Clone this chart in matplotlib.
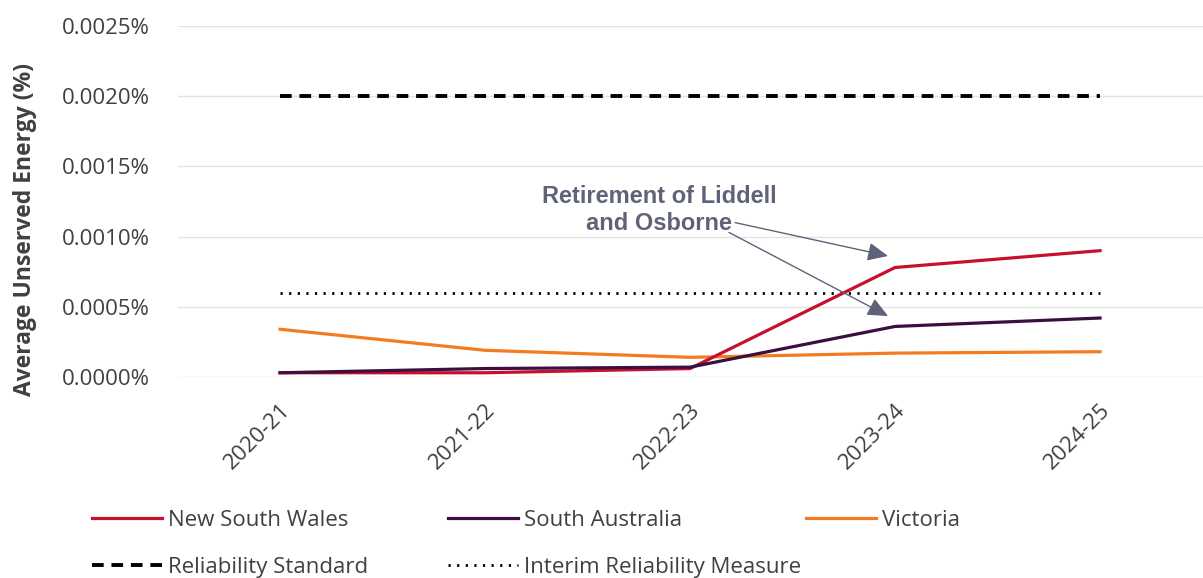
import matplotlib
matplotlib.use("Agg")
import matplotlib.pyplot as plt
from matplotlib.ticker import FuncFormatter, MultipleLocator

years = ["2020-21", "2021-22", "2022-23", "2023-24", "2024-25"]
nsw = [0.00003, 0.00003, 0.00006, 0.00078, 0.00090]
sa = [0.00003, 0.00006, 0.00007, 0.00036, 0.00042]
vic = [0.00034, 0.00019, 0.00014, 0.00017, 0.00018]
reliability_standard = [0.002] * 5
interim_measure = [0.0006] * 5

c_nsw = "#c8102e"
c_sa = "#3b0f3f"
c_vic = "#f47b20"
c_ann = "#5f6378"
txt = "#404040"

fig = plt.figure(figsize=(12.03, 5.78), dpi=100)
ax = fig.add_axes([0.1476, 0.3478, 0.852, 0.607])

x = list(range(len(years)))
l_rs, = ax.plot(x, reliability_standard, color="black", lw=2.8, dashes=(3.0, 2.0), dash_capstyle="butt")
l_irm, = ax.plot(x, interim_measure, color="black", lw=2.0, linestyle=(0, (0.8, 2.3)))
l_vic, = ax.plot(x, vic, color=c_vic, lw=2.3)
l_nsw, = ax.plot(x, nsw, color=c_nsw, lw=2.3)
l_sa, = ax.plot(x, sa, color=c_sa, lw=2.3)

ax.set_xlim(-0.5, 4.5)
ax.set_ylim(0, 0.0025)
ax.yaxis.set_major_locator(MultipleLocator(0.0005))
ax.yaxis.set_major_formatter(FuncFormatter(lambda v, p: f"{v:.4f}%"))
ax.grid(axis="y", color="#e3e3e3", lw=1)
ax.set_axisbelow(True)
for s in ax.spines.values():
    s.set_visible(False)
ax.tick_params(length=0, labelsize=16, labelcolor=txt)
ax.tick_params(axis="y", pad=20)
ax.set_xticks(x)
ax.set_xticklabels(years, rotation=45, ha="right", rotation_mode="anchor")
for lab in ax.get_xticklabels() + ax.get_yticklabels():
    lab.set_fontfamily("Open Sans")
ax.tick_params(axis="x", pad=16)
ax.set_ylabel("Average Unserved Energy (%)", fontsize=16.5, fontweight="bold",
              color=txt, family="Open Sans")
ax.yaxis.set_label_coords(-141 / 1025, 0.419)

ax.text(1.85, 0.00119, "Retirement of Liddell\nand Osborne", ha="center", va="center",
        multialignment="center", fontsize=17, fontweight="bold", color=c_ann,
        family="Liberation Sans", linespacing=1.2)
ap = dict(arrowstyle="-|>,head_length=1.0,head_width=0.45", mutation_scale=12.5, lw=1,
          color=c_ann, shrinkA=0, shrinkB=0)
ax.annotate("", xy=(2.966, 0.000862), xytext=(2.22, 0.00110), arrowprops=ap)
ax.annotate("", xy=(2.966, 0.000434), xytext=(2.19, 0.00103), arrowprops=ap)

leg_kw = dict(frameon=False, handlelength=3.15, handletextpad=0.25, labelspacing=1.15,
              prop={"family": "Open Sans", "size": 16}, labelcolor=txt, borderaxespad=0,
              borderpad=0, loc="upper left")
top = 1 - 510 / 578
leg1 = fig.legend([l_nsw, l_rs], ["New South Wales", "Reliability Standard"],
                  bbox_to_anchor=(92 / 1203, top), **leg_kw)
leg2 = fig.legend([l_sa, l_irm], ["South Australia", "Interim Reliability Measure"],
                  bbox_to_anchor=(448 / 1203, top), **leg_kw)
leg3 = fig.legend([l_vic], ["Victoria"],
                  bbox_to_anchor=(806 / 1203, top), **leg_kw)

fig.savefig("out.png", dpi=100)
